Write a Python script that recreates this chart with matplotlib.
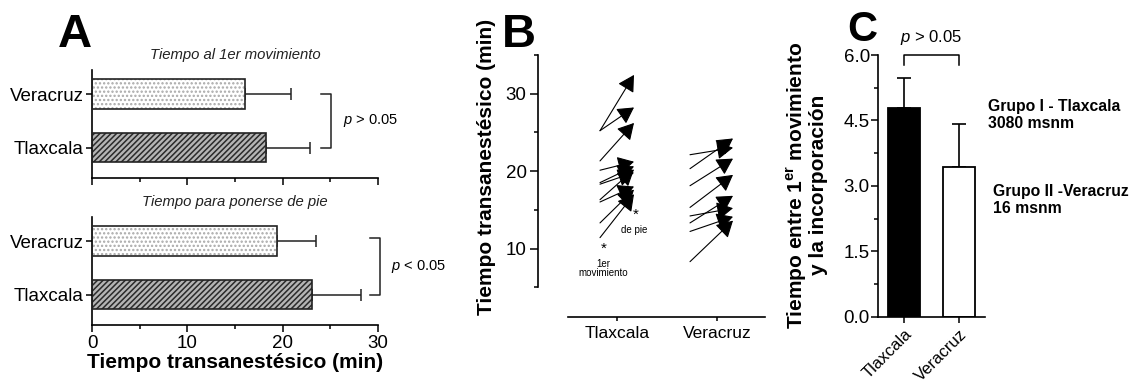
import numpy as np
import matplotlib.pyplot as plt
from matplotlib.ticker import MultipleLocator

plt.rcParams['font.family'] = ['Liberation Sans', 'DejaVu Sans']
plt.rcParams['mathtext.fontset'] = 'custom'
plt.rcParams['mathtext.rm'] = 'Liberation Sans'
plt.rcParams['mathtext.it'] = 'Liberation Sans:italic'
plt.rcParams['mathtext.bf'] = 'Liberation Sans:bold'
plt.rcParams['hatch.linewidth'] = 1.1

# --- data ---
grupos = ['Tlaxcala', 'Veracruz']

# A: tiempo al 1er movimiento / para ponerse de pie (media, DE)
mov_media = [18.3, 16.1]
mov_de = [4.6, 4.8]
pie_media = [23.1, 19.4]
pie_de = [5.1, 4.1]

# B: antes (1er movimiento) -> despues (de pie), por paciente
tlax_ini = [25.2, 25.2, 21.3, 20.1, 18.5, 18.3, 16.3, 16.0, 13.3, 11.4]
tlax_fin = [32.4, 28.2, 26.2, 21.2, 20.6, 19.8, 20.2, 18.0, 17.6, 17.0]
vera_ini = [22.1, 20.3, 18.1, 15.3, 14.2, 13.3, 12.2, 8.3]
vera_fin = [23.0, 24.2, 21.6, 19.5, 15.2, 16.8, 14.1, 13.6]

# C: diferencia entre ambos tiempos
dif_media = [4.78, 3.44]
dif_de = [0.70, 0.97]

W, H = 1133, 383
fig = plt.figure(figsize=(W / 100, H / 100), dpi=100)


def px_axes(left, top, right, bottom):
    return fig.add_axes([left / W, 1 - bottom / H, (right - left) / W, (bottom - top) / H])


def panel_a(ax, medias, des, titulo):
    ypos = np.arange(len(grupos))
    ax.barh(ypos[0], medias[0], height=0.55, color='#b4b4b4', edgecolor='#2a2a2a',
            hatch='//////', linewidth=0, zorder=2)
    ax.barh(ypos[1], medias[1], height=0.55, color='white', edgecolor='#a8a8a8',
            hatch='....', linewidth=0, zorder=2)
    # contorno negro encima del rayado
    for y, m in zip(ypos, medias):
        ax.barh(y, m, height=0.55, color='none', edgecolor='#222222', linewidth=1.2, zorder=3)
    ax.errorbar(medias, ypos, xerr=[[0, 0], des], fmt='none', ecolor='#222222',
                elinewidth=1.1, capsize=4, capthick=1.1, zorder=1)
    ax.set_xlim(0, 30)
    ax.set_ylim(-0.57, 1.45)
    ax.set_yticks(ypos)
    ax.set_yticklabels(grupos, fontsize=13.5)
    ax.xaxis.set_major_locator(MultipleLocator(10))
    ax.xaxis.set_minor_locator(MultipleLocator(5))
    ax.tick_params(axis='x', which='major', length=5, width=1.1, labelsize=13.5, pad=2)
    ax.tick_params(axis='x', which='minor', length=3, width=1.1)
    ax.tick_params(axis='y', length=4, width=1.1, pad=2)
    for s in ['top', 'right']:
        ax.spines[s].set_visible(False)
    for s in ['left', 'bottom']:
        ax.spines[s].set_linewidth(1.2)
    ax.set_title(titulo, fontsize=10.7, style='italic', pad=8, color='#222222')


# Panel A, arriba
axA1 = px_axes(92, 70, 378, 178)
panel_a(axA1, mov_media, mov_de, 'Tiempo al 1er movimiento')
axA1.set_xticklabels([])
axA1.plot([24.0, 25.1, 25.1, 24.0], [1.0, 1.0, 0.0, 0.0], color='#222222', lw=1.1, clip_on=False)
axA1.text(26.3, 0.5, r'$p$ > 0.05', fontsize=10.5, va='center', ha='left')

# Panel A, abajo
axA2 = px_axes(92, 217, 378, 325)
panel_a(axA2, pie_media, pie_de, 'Tiempo para ponerse de pie')
axA2.plot([29.2, 30.2, 30.2, 29.2], [1.05, 1.05, 0.0, 0.0], color='#222222', lw=1.1, clip_on=False)
axA2.text(31.4, 0.53, r'$p$ < 0.05', fontsize=10.5, va='center', ha='left')
axA2.set_xlabel('Tiempo transanestésico (min)', fontsize=15, fontweight='bold', labelpad=1)

fig.text(58 / W, 1 - 47 / H, 'A', fontsize=34, fontweight='bold')

# Panel B
axB = px_axes(537.7, 54.75, 765, 316.7)
axB.set_xlim(0.207, 2.48)
axB.set_ylim(1.2, 35)
flecha = dict(arrowstyle='-|>,head_length=0.5,head_width=0.28', color='black',
              lw=0.8, mutation_scale=20, shrinkA=0, shrinkB=0)
for ini, fin in zip(tlax_ini, tlax_fin):
    axB.annotate('', xy=(1.17, fin), xytext=(0.83, ini), arrowprops=flecha)
for ini, fin in zip(vera_ini, vera_fin):
    axB.annotate('', xy=(2.16, fin), xytext=(1.73, ini), arrowprops=flecha)
axB.spines['top'].set_visible(False)
axB.spines['right'].set_visible(False)
axB.spines['left'].set_bounds(5, 35)
axB.spines['bottom'].set_bounds(0.51, 2.48)
axB.spines['left'].set_linewidth(1.2)
axB.spines['bottom'].set_linewidth(1.2)
axB.set_xticks([1, 2])
axB.set_xticklabels(grupos, fontsize=12.5)
axB.yaxis.set_major_locator(MultipleLocator(10))
axB.yaxis.set_minor_locator(MultipleLocator(5))
axB.tick_params(axis='y', which='major', length=6, width=1.1, labelsize=13.5, pad=2)
axB.tick_params(axis='y', which='minor', length=3, width=1.1)
axB.tick_params(axis='x', length=3, width=1.1, pad=4)
axB.set_ylabel('Tiempo transanestésico (min)', fontsize=15, fontweight='bold')
axB.yaxis.set_label_coords(-0.183, 0.571)
axB.text(0.87, 10.0, '*', fontsize=11, ha='center', va='center')
axB.text(0.86, 7.4, '1er\nmovimiento', fontsize=7, ha='center', va='center', linespacing=0.95)
axB.text(1.19, 14.4, '*', fontsize=11, ha='center', va='center')
axB.text(1.17, 12.4, 'de pie', fontsize=7, ha='center', va='center')
fig.text(502 / W, 1 - 47 / H, 'B', fontsize=34, fontweight='bold')

# Panel C
axC = px_axes(878.3, 55, 985, 316.7)
xc = np.arange(len(grupos))
axC.bar(xc, dif_media, width=0.57, color=['black', 'white'], edgecolor='black', linewidth=1.3, zorder=2)
axC.errorbar(xc, dif_media, yerr=[[0, 0], dif_de], fmt='none', ecolor='black',
             elinewidth=1.2, capsize=5, capthick=1.2, zorder=1)
axC.set_xlim(-0.467, 1.473)
axC.set_ylim(0, 6.0)
axC.set_yticks([0, 1.5, 3.0, 4.5, 6.0])
axC.set_yticklabels(['0.0', '1.5', '3.0', '4.5', '6.0'])
axC.yaxis.set_minor_locator(MultipleLocator(0.75))
axC.tick_params(axis='y', which='major', length=5, width=1.1, labelsize=13.5, pad=1)
axC.tick_params(axis='y', which='minor', length=3, width=1.1)
axC.set_xticks(xc)
axC.set_xticklabels(grupos, rotation=45, ha='right', rotation_mode='anchor', fontsize=12)
axC.tick_params(axis='x', length=4, width=1.1, pad=3)
for s in ['top', 'right']:
    axC.spines[s].set_visible(False)
for s in ['left', 'bottom']:
    axC.spines[s].set_linewidth(1.2)
axC.plot([0, 0, 1, 1], [5.78, 6.0, 6.0, 5.78], color='black', lw=1.1, clip_on=False)
axC.text(0.5, 6.18, r'$p$ > 0.05', fontsize=12, ha='center', va='bottom')
axC.set_ylabel('Tiempo entre 1$^{\\mathbf{er}}$ movimiento\ny la incorporación',
               fontsize=15, fontweight='bold', linespacing=1.0)
axC.yaxis.set_label_coords(-0.47, 0.503)
fig.text(988 / W, 1 - 115 / H, 'Grupo I - Tlaxcala\n3080 msnm', fontsize=11.3,
         fontweight='bold', va='center', linespacing=1.2)
fig.text(993 / W, 1 - 200 / H, 'Grupo II -Veracruz\n16 msnm', fontsize=11.3,
         fontweight='bold', va='center', linespacing=1.2)
fig.text(847 / W, 1 - 10 / H, 'C', fontsize=30, fontweight='bold', va='top')

fig.savefig('out.png', dpi=100)
